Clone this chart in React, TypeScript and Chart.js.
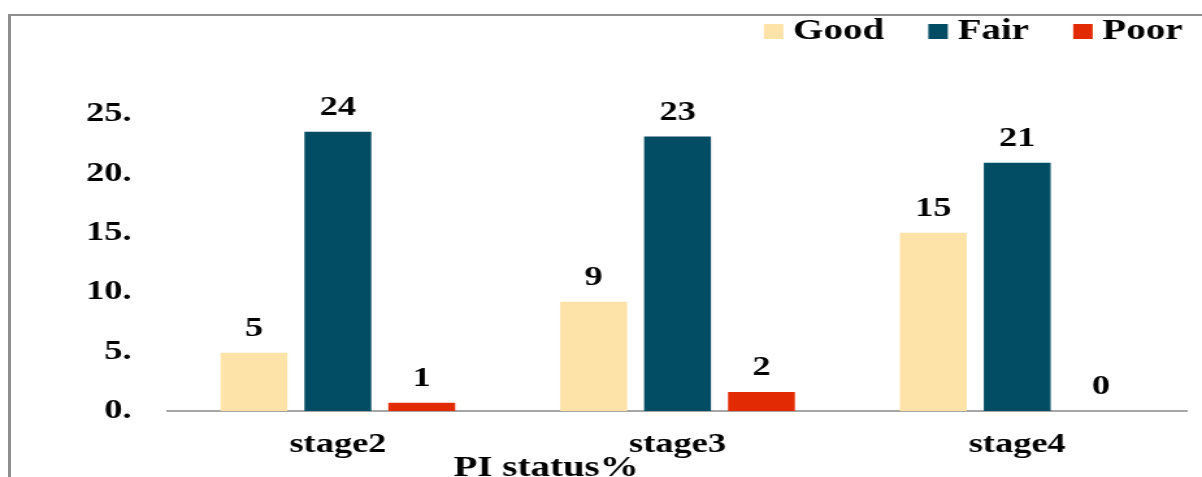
import { useEffect, useRef } from "react";
import { Chart, registerables } from "chart.js";

Chart.register(...registerables);

// Periodontal (PI) status distribution, in percent, per stage
const stages = ["stage2", "stage3", "stage4"];
const goodPct = [4.9, 9.2, 15.0];
const fairPct = [23.5, 23.1, 20.9];
const poorPct = [0.7, 1.6, 0];
const seriesNames = ["Good", "Fair", "Poor"];
const seriesColors = ["#FDE3A8", "#034D64", "#E22A04"];
const yTicks = [0, 5, 10, 15, 20, 25];
const xTitle = "PI status%";

const SERIF = '"Liberation Serif", "Times New Roman", Times, serif';
// The chart is drawn on a narrower bitmap and stretched horizontally on screen,
// giving the wide, bold lettering of the original figure.
const CANVAS_W = 925;
const CANVAS_H = 477;
const SCREEN_W = 1202;

const valueLabels = {
  id: "valueLabels",
  afterDatasetsDraw(chart: any) {
    const ctx = chart.ctx;
    ctx.save();
    ctx.font = `bold 28px ${SERIF}`;
    ctx.fillStyle = "#000";
    ctx.textAlign = "center";
    ctx.textBaseline = "alphabetic";
    chart.data.datasets.forEach((ds: any, i: number) => {
      const meta = chart.getDatasetMeta(i);
      meta.data.forEach((bar: any, j: number) => {
        const v = ds.data[j] as number;
        ctx.fillText(String(Math.round(v)), bar.x, bar.y - 17);
      });
    });
    ctx.restore();
  },
};

const swatchLegend = {
  id: "swatchLegend",
  afterDraw(chart: any) {
    const ctx = chart.ctx;
    ctx.save();
    ctx.font = `bold 30px ${SERIF}`;
    const box = 15;
    const gap = 7.5;
    const itemGap = 34;
    const right = 910;
    const cy = 31.5;
    const items = chart.data.datasets.map((ds: any) => ({
      label: ds.label as string,
      color: ds.backgroundColor as string,
    }));
    const widths = items.map(
      (it: any) => box + gap + ctx.measureText(it.label).width
    );
    let x =
      right -
      widths.reduce((a: number, b: number) => a + b, 0) -
      itemGap * (items.length - 1);
    ctx.textAlign = "left";
    ctx.textBaseline = "middle";
    items.forEach((it: any, i: number) => {
      ctx.fillStyle = it.color;
      ctx.fillRect(x, cy - box / 2, box, box);
      ctx.fillStyle = "#000";
      ctx.fillText(it.label, x + box + gap, cy);
      x += widths[i] + itemGap;
    });
    ctx.restore();
  },
};

const axisCaption = {
  id: "axisCaption",
  afterDraw(chart: any) {
    const { ctx, chartArea } = chart;
    ctx.save();
    ctx.font = `bold 30px ${SERIF}`;
    ctx.fillStyle = "#000";
    ctx.textAlign = "center";
    ctx.textBaseline = "alphabetic";
    const x = chartArea.left + (chartArea.right - chartArea.left) * 0.371;
    ctx.fillText(xTitle, x, chart.height - 1);
    ctx.restore();
  },
};

export default function App() {
  const ref = useRef<HTMLCanvasElement>(null);

  useEffect(() => {
    const seriesData = [goodPct, fairPct, poorPct];
    const chart = new Chart(ref.current as HTMLCanvasElement, {
      type: "bar",
      data: {
        labels: stages,
        datasets: seriesNames.map((name, i) => ({
          label: name,
          data: seriesData[i],
          backgroundColor: seriesColors[i],
          borderWidth: 0,
        })),
      },
      options: {
        responsive: false,
        animation: false,
        devicePixelRatio: 1,
        layout: { padding: { top: 114, right: 11.5, bottom: 0, left: 0 } },
        datasets: {
          bar: { categoryPercentage: 0.741, barPercentage: 0.797 },
        },
        plugins: {
          legend: { display: false },
          tooltip: { enabled: false },
          title: { display: false },
        },
        scales: {
          x: {
            grid: { display: false, drawTicks: false },
            border: { display: true, color: "#A6A6A6", width: 2 },
            ticks: {
              color: "#000",
              padding: 17,
              font: { family: SERIF, size: 28, weight: "bold" },
            },
            afterFit(scale: any) {
              scale.height = 66;
            },
          },
          y: {
            min: 0,
            max: 25,
            grid: { display: false, drawTicks: false },
            border: { display: false },
            afterBuildTicks(scale: any) {
              scale.ticks = yTicks.map((v) => ({ value: v }));
            },
            ticks: {
              color: "#000",
              padding: 28,
              font: { family: SERIF, size: 28, weight: "bold" },
              callback: (v: any) => `${v}.`,
            },
            afterFit(scale: any) {
              scale.width = 129.3;
            },
          },
        },
      } as any,
      plugins: [valueLabels, swatchLegend, axisCaption],
    });
    return () => chart.destroy();
  }, []);

  return (
    <div style={{ position: "fixed", left: 0, top: 0, width: SCREEN_W, height: CANVAS_H, overflow: "hidden", background: "#fff" }}>
      <div
        style={{
          position: "absolute",
          left: 8,
          top: 14,
          width: 1400,
          height: 700,
          borderTop: "2px solid #8E8E8E",
          borderLeft: "3px solid #8E8E8E",
        }}
      />
      <canvas
        ref={ref}
        width={CANVAS_W}
        height={CANVAS_H}
        style={{
          position: "absolute",
          left: 0,
          top: 0,
          display: "block",
          width: `${SCREEN_W}px`,
          height: `${CANVAS_H}px`,
        }}
      />
    </div>
  );
}
